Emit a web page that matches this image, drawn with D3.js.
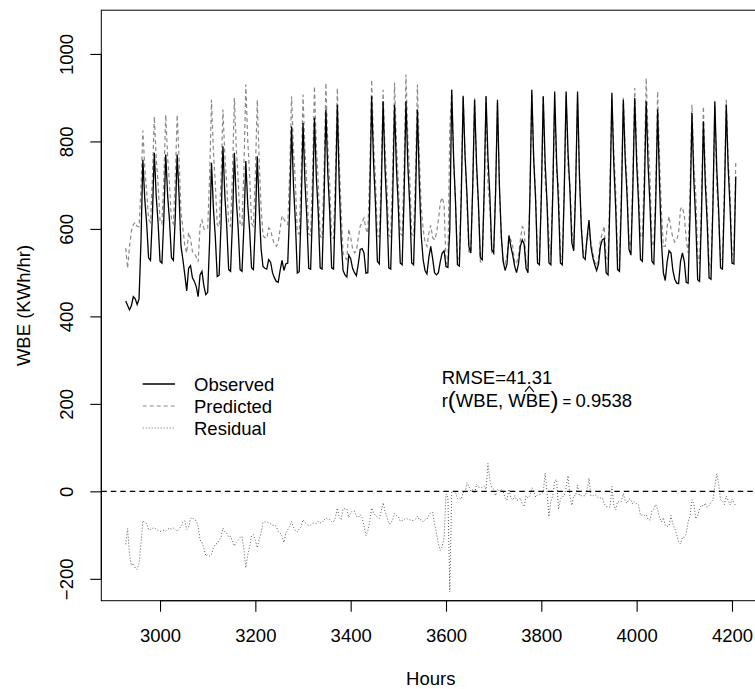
<!DOCTYPE html>
<html>
<head>
<meta charset="utf-8">
<script src="https://cdn.jsdelivr.net/npm/d3@7"></script>
<style>
  body { margin: 0; background: #fff; }
  text { font-family: "Liberation Sans", Arial, Helvetica, sans-serif; }
</style>
</head>
<body>
<div id="chart"></div>
<script>
// hourly series, read every 4 hours (offsets within each day), one row per day
const firstHour = 2928;
const sampleOffsets = [0, 4, 8, 12, 16, 20];

const observed = [
  435, 425, 415, 425, 445, 440,
  427, 440, 570, 758, 668, 612,
  534, 528, 630, 774, 675, 613,
  526, 522, 624, 770, 676, 617,
  534, 528, 628, 770, 674, 560,
  530, 495, 458, 510, 516, 488,
  480, 468, 445, 495, 503, 470,
  450, 455, 570, 751, 647, 582,
  491, 494, 610, 789, 676, 606,
  507, 503, 614, 774, 667, 600,
  507, 503, 606, 755, 657, 596,
  511, 507, 613, 766, 650, 555,
  514, 510, 508, 530, 524, 500,
  488, 480, 478, 505, 528, 505,
  520, 522, 646, 834, 700, 616,
  499, 502, 636, 842, 709, 626,
  510, 508, 648, 854, 717, 636,
  511, 508, 656, 873, 728, 640,
  511, 508, 660, 884, 700, 575,
  505, 495, 490, 540, 532, 510,
  500, 493, 520, 553, 555, 545,
  499, 500, 661, 903, 752, 658,
  526, 520, 672, 892, 740, 644,
  511, 508, 660, 884, 739, 649,
  522, 518, 670, 892, 744, 652,
  522, 518, 662, 873, 705, 585,
  530, 505, 497, 535, 560, 532,
  500, 495, 500, 525, 545, 550,
  514, 512, 600, 918, 760, 660,
  518, 515, 672, 903, 766, 680,
  560, 545, 694, 895, 751, 660,
  534, 530, 682, 904, 764, 676,
  553, 545, 680, 895, 700, 585,
  525, 505, 520, 585, 560, 540,
  515, 500, 520, 560, 575, 565,
  510, 500, 670, 918, 760, 667,
  522, 518, 674, 903, 752, 658,
  522, 518, 679, 914, 757, 659,
  522, 518, 679, 914, 776, 689,
  568, 550, 690, 914, 720, 600,
  535, 530, 580, 620, 560, 535,
  518, 505, 520, 560, 575, 578,
  500, 495, 664, 911, 749, 648,
  507, 503, 662, 895, 758, 673,
  553, 540, 691, 899, 751, 659,
  530, 526, 675, 892, 746, 654,
  526, 520, 660, 873, 700, 570,
  500, 482, 525, 550, 545, 505,
  485, 476, 475, 525, 545, 525,
  478, 476, 633, 865, 712, 617,
  484, 480, 629, 846, 703, 613,
  488, 485, 650, 892, 740, 644,
  511, 508, 660, 884, 739, 649,
  522, 520, 720
];

const predicted = [
  556, 510, 560, 595, 610, 615,
  606, 605, 690, 825, 740, 685,
  622, 615, 715, 857, 762, 703,
  618, 612, 713, 861, 763, 701,
  620, 612, 715, 861, 760, 640,
  600, 562, 545, 592, 578, 548,
  545, 535, 525, 606, 620, 600,
  598, 600, 718, 895, 777, 703,
  610, 605, 715, 873, 768, 702,
  612, 606, 727, 899, 784, 712,
  612, 606, 739, 930, 803, 723,
  612, 606, 725, 895, 760, 650,
  585, 580, 578, 602, 598, 578,
  565, 560, 570, 600, 630, 622,
  615, 610, 727, 903, 782, 706,
  592, 588, 717, 907, 780, 701,
  588, 585, 721, 926, 790, 704,
  583, 580, 722, 934, 792, 704,
  580, 578, 720, 922, 760, 640,
  545, 535, 530, 600, 580, 555,
  545, 550, 580, 606, 615, 625,
  600, 590, 730, 941, 801, 713,
  585, 582, 718, 918, 785, 702,
  585, 582, 725, 934, 794, 707,
  590, 585, 735, 953, 808, 717,
  588, 585, 725, 930, 770, 650,
  600, 570, 560, 590, 608, 580,
  575, 590, 620, 660, 672, 655,
  520, 525, 830, 918, 760, 662,
  535, 530, 690, 905, 770, 660,
  548, 545, 690, 900, 735, 650,
  525, 522, 670, 900, 700, 650,
  545, 540, 690, 890, 700, 580,
  525, 520, 540, 580, 575, 560,
  525, 520, 540, 575, 605, 600,
  520, 515, 680, 910, 760, 680,
  530, 525, 680, 905, 710, 660,
  580, 540, 690, 890, 730, 700,
  540, 530, 690, 905, 740, 700,
  600, 560, 700, 900, 730, 610,
  545, 540, 575, 590, 570, 545,
  525, 515, 535, 575, 590, 606,
  535, 530, 700, 900, 780, 690,
  530, 528, 685, 900, 780, 700,
  570, 560, 720, 922, 780, 690,
  585, 580, 730, 945, 810, 720,
  570, 560, 690, 914, 760, 640,
  560, 560, 605, 629, 600, 580,
  570, 575, 590, 645, 650, 630,
  575, 545, 690, 884, 740, 680,
  540, 520, 660, 880, 730, 650,
  520, 510, 670, 880, 700, 625,
  530, 530, 690, 895, 760, 680,
  540, 545, 755
];

const xTicks = [3000, 3200, 3400, 3600, 3800, 4000, 4200];
const yTicks = [-200, 0, 200, 400, 600, 800, 1000];
const yLimits = [-250, 1100];
const legendLabels = ["Observed", "Predicted", "Residual"];
const rmse = "41.31";
const corr = "0.9538";

const width = 755, height = 689;
const plot = { left: 101.3, right: 760.2, top: 10.2, bottom: 600.7 };
const fontSize = 18.5;

const hours = observed.map((_, i) => firstHour + Math.floor(i / 6) * 24 + sampleOffsets[i % 6]);
const residual = observed.map((v, i) => v - predicted[i]);

// R style 4% padding on x
const ext = d3.extent(hours);
const pad = (ext[1] - ext[0]) * 0.04;
const x = d3.scaleLinear().domain([ext[0] - pad, ext[1] + pad]).range([plot.left, plot.right]);
const y = d3.scaleLinear().domain(yLimits).range([plot.bottom, plot.top]);

const svg = d3.select("#chart").append("svg")
  .attr("width", width)
  .attr("height", height)
  .style("display", "block");

svg.append("rect").attr("width", width).attr("height", height).attr("fill", "#fff");

const line = d3.line().x((d, i) => x(hours[i])).y(d => y(d));

// Predicted (dashed grey) under the observed
svg.append("path")
  .attr("d", line(predicted))
  .attr("fill", "none")
  .attr("stroke", "#8a8a8a")
  .attr("stroke-width", 1.2)
  .attr("stroke-dasharray", "4,3");

svg.append("path")
  .attr("d", line(observed))
  .attr("fill", "none")
  .attr("stroke", "#000")
  .attr("stroke-width", 1.3);

svg.append("path")
  .attr("d", line(residual))
  .attr("fill", "none")
  .attr("stroke", "#5a5a5a")
  .attr("stroke-width", 1)
  .attr("stroke-dasharray", "1,2");

// zero reference line
svg.append("line")
  .attr("x1", plot.left).attr("x2", plot.right)
  .attr("y1", y(0)).attr("y2", y(0))
  .attr("stroke", "#000")
  .attr("stroke-width", 1.1)
  .attr("stroke-dasharray", "5.5,4");

// box
svg.append("rect")
  .attr("x", plot.left).attr("y", plot.top)
  .attr("width", plot.right - plot.left)
  .attr("height", plot.bottom - plot.top)
  .attr("fill", "none")
  .attr("stroke", "#000")
  .attr("stroke-width", 1);

// x axis
const xAxis = svg.append("g")
  .attr("transform", `translate(0,${plot.bottom})`)
  .call(d3.axisBottom(x).tickValues(xTicks).tickSize(11).tickFormat(d3.format("d")));
xAxis.select(".domain").remove();
xAxis.selectAll(".tick line").attr("stroke", "#000").attr("stroke-width", 1.1);
xAxis.selectAll(".tick text")
  .attr("y", 41).attr("dy", null)
  .attr("fill", "#000")
  .style("font-size", fontSize + "px");
xAxis.append("line")
  .attr("x1", x(xTicks[0])).attr("x2", x(xTicks[xTicks.length - 1]))
  .attr("stroke", "#000").attr("stroke-width", 1.1);

// y axis
const yAxis = svg.append("g")
  .attr("transform", `translate(${plot.left},0)`)
  .call(d3.axisLeft(y).tickValues(yTicks).tickSize(11)
    .tickFormat(d => d < 0 ? "\u2212" + Math.abs(d) : d));
yAxis.select(".domain").remove();
yAxis.selectAll(".tick line").attr("stroke", "#000").attr("stroke-width", 1.1);
yAxis.selectAll(".tick text")
  .attr("x", null).attr("dy", null)
  .attr("transform", "translate(-28.5,0) rotate(-90)")
  .attr("text-anchor", "middle")
  .attr("fill", "#000")
  .style("font-size", fontSize + "px");
yAxis.append("line")
  .attr("y1", y(yTicks[0])).attr("y2", y(yTicks[yTicks.length - 1]))
  .attr("stroke", "#000").attr("stroke-width", 1.1);

// axis titles
svg.append("text")
  .attr("x", (plot.left + plot.right) / 2)
  .attr("y", 685)
  .attr("text-anchor", "middle")
  .style("font-size", fontSize + "px")
  .text("Hours");

svg.append("text")
  .attr("transform", `translate(30,${(plot.top + plot.bottom) / 2}) rotate(-90)`)
  .attr("text-anchor", "middle")
  .style("font-size", fontSize + "px")
  .text("WBE (KWh/hr)");

// legend
const legendStyles = [
  { stroke: "#000", dash: null, w: 1.3 },
  { stroke: "#8a8a8a", dash: "4,3", w: 1.2 },
  { stroke: "#666", dash: "1,2", w: 1 }
];
const legend = svg.append("g");
legendLabels.forEach((lab, i) => {
  const cy = 384 + i * 22;
  legend.append("line")
    .attr("x1", 142.7).attr("x2", 175)
    .attr("y1", cy).attr("y2", cy)
    .attr("stroke", legendStyles[i].stroke)
    .attr("stroke-width", legendStyles[i].w)
    .attr("stroke-dasharray", legendStyles[i].dash);
  legend.append("text")
    .attr("x", 194)
    .attr("y", cy + 6.6)
    .style("font-size", fontSize + "px")
    .text(lab);
});

// annotations
svg.append("text")
  .attr("x", 441.7)
  .attr("y", 383.5)
  .style("font-size", fontSize + "px")
  .text("RMSE=" + rmse);

const eqY = 407;
const eq = svg.append("text")
  .attr("x", 441.7)
  .attr("y", eqY)
  .style("font-size", fontSize + "px");
eq.append("tspan").text("r");
eq.append("tspan").style("font-size", "24px").attr("dy", 1).text("(");
eq.append("tspan").style("font-size", fontSize + "px").attr("dy", -1).text("WBE, WBE");
eq.append("tspan").style("font-size", "24px").attr("dy", 1).text(")");
eq.append("tspan").style("font-size", "15px").attr("dy", -1).text(" = ");
eq.append("tspan").style("font-size", fontSize + "px").text(corr);

// hat over the second WBE
const node = eq.node();
const hatStart = node.getStartPositionOfChar(7).x;
const hatEnd = node.getEndPositionOfChar(9).x;
const hx = (hatStart + hatEnd) / 2;
const hy = eqY - 13.3 - 1.8;
svg.append("path")
  .attr("d", `M${hx - 4.5},${hy} L${hx},${hy - 5.5} L${hx + 4.5},${hy}`)
  .attr("fill", "none")
  .attr("stroke", "#000")
  .attr("stroke-width", 1.1);
</script>
</body>
</html>
